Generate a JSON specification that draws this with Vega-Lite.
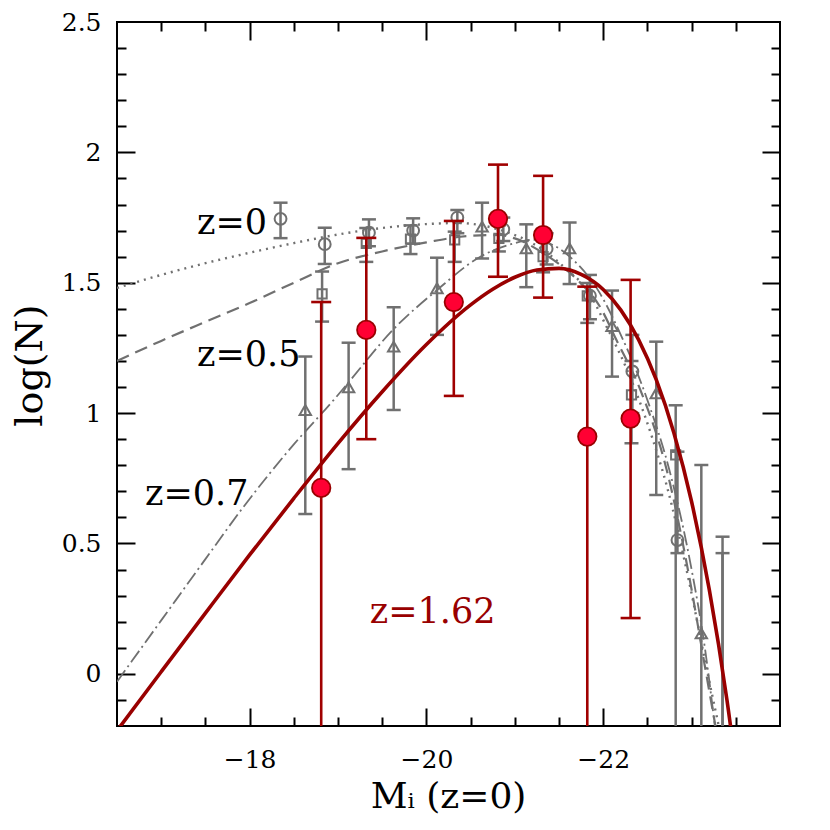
{
  "$schema": "https://vega.github.io/schema/vega-lite/v6.json",
  "width": 663,
  "height": 704,
  "autosize": {"type": "none"},
  "padding": {"left": 117, "top": 22, "right": 50, "bottom": 104},
  "background": "white",
  "config": {
    "view": {"stroke": "black", "strokeWidth": 2},
    "font": "DejaVu Serif",
    "axis": {"grid": false, "domain": false, "labelFont": "DejaVu Serif", "labelFontSize": 25, "labelColor": "black", "tickColor": "black", "tickWidth": 2, "titleFont": "DejaVu Serif", "titleFontSize": 36, "titleFontWeight": "normal", "titleColor": "black", "labelFlush": false, "labelOverlap": false}
  },
  "datasets": {
    "curves": [
      {"M": -16.5, "logN": 1.48, "z": "0"}, {"M": -17.0, "logN": 1.53, "z": "0"}, {"M": -17.5, "logN": 1.575, "z": "0"}, {"M": -18.0, "logN": 1.615, "z": "0"}, {"M": -18.5, "logN": 1.652, "z": "0"}, {"M": -19.0, "logN": 1.685, "z": "0"}, {"M": -19.5, "logN": 1.71, "z": "0"}, {"M": -20.0, "logN": 1.725, "z": "0"}, {"M": -20.35, "logN": 1.729, "z": "0"}, {"M": -20.83, "logN": 1.703, "z": "0"}, {"M": -21.32, "logN": 1.626, "z": "0"}, {"M": -21.59, "logN": 1.55, "z": "0"}, {"M": -21.82, "logN": 1.472, "z": "0"}, {"M": -22.04, "logN": 1.33, "z": "0"}, {"M": -22.27, "logN": 1.166, "z": "0"}, {"M": -22.56, "logN": 0.9, "z": "0"}, {"M": -22.72, "logN": 0.72, "z": "0"}, {"M": -22.98, "logN": 0.34, "z": "0"}, {"M": -23.17, "logN": 0.02, "z": "0"}, {"M": -23.32, "logN": -0.22, "z": "0"},
      {"M": -16.5, "logN": 1.2, "z": "0.5"}, {"M": -17.0, "logN": 1.277, "z": "0.5"}, {"M": -17.5, "logN": 1.35, "z": "0.5"}, {"M": -18.0, "logN": 1.422, "z": "0.5"}, {"M": -18.5, "logN": 1.5, "z": "0.5"}, {"M": -19.0, "logN": 1.575, "z": "0.5"}, {"M": -19.5, "logN": 1.62, "z": "0.5"}, {"M": -20.0, "logN": 1.655, "z": "0.5"}, {"M": -20.5, "logN": 1.68, "z": "0.5"}, {"M": -20.83, "logN": 1.683, "z": "0.5"}, {"M": -21.0, "logN": 1.67, "z": "0.5"}, {"M": -21.32, "logN": 1.614, "z": "0.5"}, {"M": -21.74, "logN": 1.5, "z": "0.5"}, {"M": -21.96, "logN": 1.41, "z": "0.5"}, {"M": -22.15, "logN": 1.28, "z": "0.5"}, {"M": -22.42, "logN": 1.089, "z": "0.5"}, {"M": -22.72, "logN": 0.78, "z": "0.5"}, {"M": -22.98, "logN": 0.36, "z": "0.5"}, {"M": -23.15, "logN": 0.03, "z": "0.5"}, {"M": -23.28, "logN": -0.22, "z": "0.5"},
      {"M": -16.5, "logN": -0.03, "z": "0.7"}, {"M": -17.0, "logN": 0.205, "z": "0.7"}, {"M": -17.5, "logN": 0.44, "z": "0.7"}, {"M": -17.93, "logN": 0.64, "z": "0.7"}, {"M": -18.5, "logN": 0.88, "z": "0.7"}, {"M": -18.95, "logN": 1.05, "z": "0.7"}, {"M": -19.1, "logN": 1.11, "z": "0.7"}, {"M": -19.62, "logN": 1.319, "z": "0.7"}, {"M": -20.12, "logN": 1.472, "z": "0.7"}, {"M": -20.61, "logN": 1.6, "z": "0.7"}, {"M": -20.98, "logN": 1.65, "z": "0.7"}, {"M": -21.2, "logN": 1.665, "z": "0.7"}, {"M": -21.36, "logN": 1.655, "z": "0.7"}, {"M": -21.66, "logN": 1.588, "z": "0.7"}, {"M": -21.96, "logN": 1.461, "z": "0.7"}, {"M": -22.19, "logN": 1.307, "z": "0.7"}, {"M": -22.5, "logN": 1.05, "z": "0.7"}, {"M": -22.75, "logN": 0.78, "z": "0.7"}, {"M": -23.0, "logN": 0.4, "z": "0.7"}, {"M": -23.15, "logN": 0.1, "z": "0.7"}, {"M": -23.27, "logN": -0.22, "z": "0.7"},
      {"M": -16.5, "logN": -0.218, "z": "1.62"}, {"M": -17.0, "logN": 0.008, "z": "1.62"}, {"M": -17.5, "logN": 0.233, "z": "1.62"}, {"M": -18.0, "logN": 0.456, "z": "1.62"}, {"M": -18.5, "logN": 0.673, "z": "1.62"}, {"M": -19.0, "logN": 0.884, "z": "1.62"}, {"M": -19.5, "logN": 1.082, "z": "1.62"}, {"M": -20.0, "logN": 1.263, "z": "1.62"}, {"M": -20.5, "logN": 1.415, "z": "1.62"}, {"M": -20.75, "logN": 1.475, "z": "1.62"}, {"M": -21.0, "logN": 1.521, "z": "1.62"}, {"M": -21.25, "logN": 1.549, "z": "1.62"}, {"M": -21.5, "logN": 1.555, "z": "1.62"}, {"M": -21.75, "logN": 1.532, "z": "1.62"}, {"M": -22.0, "logN": 1.474, "z": "1.62"}, {"M": -22.2, "logN": 1.395, "z": "1.62"}, {"M": -22.4, "logN": 1.282, "z": "1.62"}, {"M": -22.6, "logN": 1.128, "z": "1.62"}, {"M": -22.8, "logN": 0.924, "z": "1.62"}, {"M": -23.0, "logN": 0.66, "z": "1.62"}, {"M": -23.2, "logN": 0.323, "z": "1.62"}, {"M": -23.4, "logN": -0.1, "z": "1.62"}, {"M": -23.6, "logN": -0.627, "z": "1.62"}
    ],
    "points": [
      {"M": -18.35, "logN": 1.745, "lo": 1.671, "hi": 1.807, "z": "0"},
      {"M": -18.85, "logN": 1.648, "lo": 1.572, "hi": 1.711, "z": "0"},
      {"M": -19.35, "logN": 1.692, "lo": 1.64, "hi": 1.743, "z": "0"},
      {"M": -19.85, "logN": 1.7, "lo": 1.65, "hi": 1.747, "z": "0"},
      {"M": -20.35, "logN": 1.75, "lo": 1.69, "hi": 1.779, "z": "0"},
      {"M": -20.87, "logN": 1.705, "lo": 1.66, "hi": 1.75, "z": "0"},
      {"M": -21.36, "logN": 1.63, "lo": 1.57, "hi": 1.69, "z": "0"},
      {"M": -21.85, "logN": 1.45, "lo": 1.36, "hi": 1.53, "z": "0"},
      {"M": -22.33, "logN": 1.16, "lo": 1.0, "hi": 1.3, "z": "0"},
      {"M": -22.84, "logN": 0.513, "lo": 0.463, "hi": 0.852, "z": "0"},
      {"M": -23.35, "logN": -0.5, "lo": -1, "hi": 0.526, "z": "0"},
      {"M": -18.82, "logN": 1.457, "lo": 1.351, "hi": 1.543, "z": "0.5"},
      {"M": -19.32, "logN": 1.651, "lo": 1.58, "hi": 1.71, "z": "0.5"},
      {"M": -19.82, "logN": 1.667, "lo": 1.61, "hi": 1.72, "z": "0.5"},
      {"M": -20.32, "logN": 1.664, "lo": 1.58, "hi": 1.696, "z": "0.5"},
      {"M": -20.82, "logN": 1.67, "lo": 1.62, "hi": 1.72, "z": "0.5"},
      {"M": -21.32, "logN": 1.6, "lo": 1.54, "hi": 1.66, "z": "0.5"},
      {"M": -21.82, "logN": 1.45, "lo": 1.346, "hi": 1.499, "z": "0.5"},
      {"M": -22.32, "logN": 1.07, "lo": 0.884, "hi": 1.2, "z": "0.5"},
      {"M": -22.82, "logN": 0.84, "lo": -1, "hi": 1.03, "z": "0.5"},
      {"M": -23.35, "logN": -0.5, "lo": -1, "hi": 0.463, "z": "0.5"},
      {"M": -18.63, "logN": 1.012, "lo": 0.613, "hi": 1.217, "z": "0.7"},
      {"M": -19.12, "logN": 1.099, "lo": 0.785, "hi": 1.27, "z": "0.7"},
      {"M": -19.63, "logN": 1.255, "lo": 1.012, "hi": 1.406, "z": "0.7"},
      {"M": -20.12, "logN": 1.479, "lo": 1.3, "hi": 1.596, "z": "0.7"},
      {"M": -20.63, "logN": 1.715, "lo": 1.593, "hi": 1.807, "z": "0.7"},
      {"M": -21.13, "logN": 1.632, "lo": 1.483, "hi": 1.724, "z": "0.7"},
      {"M": -21.62, "logN": 1.632, "lo": 1.495, "hi": 1.731, "z": "0.7"},
      {"M": -22.1, "logN": 1.334, "lo": 1.14, "hi": 1.47, "z": "0.7"},
      {"M": -22.6, "logN": 1.076, "lo": 0.686, "hi": 1.274, "z": "0.7"},
      {"M": -23.11, "logN": 0.155, "lo": -1, "hi": 0.801, "z": "0.7"},
      {"M": -18.81, "logN": 0.713, "lo": -1, "hi": 1.426, "z": "1.62"},
      {"M": -19.32, "logN": 1.319, "lo": 0.9, "hi": 1.672, "z": "1.62"},
      {"M": -20.31, "logN": 1.426, "lo": 1.066, "hi": 1.737, "z": "1.62"},
      {"M": -20.81, "logN": 1.745, "lo": 1.523, "hi": 1.953, "z": "1.62"},
      {"M": -21.32, "logN": 1.683, "lo": 1.443, "hi": 1.91, "z": "1.62"},
      {"M": -21.82, "logN": 0.91, "lo": -1, "hi": 1.485, "z": "1.62"},
      {"M": -22.31, "logN": 0.979, "lo": 0.214, "hi": 1.511, "z": "1.62"}
    ],
    "labels": [
      {"M": -17.405, "logN": 1.731, "text": "z=0", "z": "0"},
      {"M": -17.405, "logN": 1.223, "text": "z=0.5", "z": "0.5"},
      {"M": -16.817, "logN": 0.69, "text": "z=0.7", "z": "0.7"},
      {"M": -19.36, "logN": 0.237, "text": "z=1.62", "z": "1.62"}
    ]
  },
  "resolve": {"axis": {"x": "independent", "y": "independent"}},
  "layer": [
    {
      "data": {"name": "curves"},
      "transform": [{"filter": "datum.z === '0'"}],
      "mark": {"type": "line", "clip": true, "color": "#707070", "strokeWidth": 2.4, "strokeDash": [2, 5], "interpolate": "monotone"},
      "encoding": {
        "x": {"field": "M", "type": "quantitative", "scale": {"domain": [-24, -16.5], "reverse": true, "nice": false, "zero": false},
          "axis": {"orient": "bottom", "values": [-18, -20, -22], "format": "d", "ticks": false, "labelPadding": 21, "title": "Mᵢ  (z=0)", "titleX": 331, "titleY": 70, "titleAlign": "center", "titleBaseline": "middle"}},
        "y": {"field": "logN", "type": "quantitative", "scale": {"domain": [-0.2, 2.5], "nice": false, "zero": false},
          "axis": {"orient": "left", "values": [0, 0.5, 1, 1.5, 2, 2.5], "format": "~g", "ticks": false, "labelPadding": 16, "title": "log(N)", "titleX": -87, "titleY": 343, "titleAngle": -90, "titleAlign": "center", "titleBaseline": "middle", "titleFontSize": 38}}
      }
    },
    {
      "data": {"name": "curves"},
      "transform": [{"filter": "datum.z === '0.5'"}],
      "mark": {"type": "line", "clip": true, "color": "#707070", "strokeWidth": 2.2, "strokeDash": [13, 7], "interpolate": "monotone"},
      "encoding": {
        "x": {"field": "M", "type": "quantitative", "scale": {"domain": [-24, -16.5], "reverse": true, "nice": false, "zero": false},
          "axis": {"orient": "bottom", "values": [-17, -17.5, -18, -18.5, -19, -19.5, -20, -20.5, -21, -21.5, -22, -22.5, -23, -23.5], "labels": false, "title": null, "ticks": true,
            "tickSize": {"condition": {"test": "abs(datum.value % 2) < 0.01", "value": -18}, "value": -9}}},
        "y": {"field": "logN", "type": "quantitative", "scale": {"domain": [-0.2, 2.5], "nice": false, "zero": false},
          "axis": {"orient": "left", "values": [-0.1, 0, 0.1, 0.2, 0.3, 0.4, 0.5, 0.6, 0.7, 0.8, 0.9, 1, 1.1, 1.2, 1.3, 1.4, 1.5, 1.6, 1.7, 1.8, 1.9, 2, 2.1, 2.2, 2.3, 2.4], "labels": false, "title": null, "ticks": true,
            "tickSize": {"condition": {"test": "abs(datum.value * 2 - round(datum.value * 2)) < 0.01", "value": -18}, "value": -9}}}
      }
    },
    {
      "data": {"name": "curves"},
      "transform": [{"filter": "datum.z === '0.7'"}],
      "mark": {"type": "line", "clip": true, "color": "#707070", "strokeWidth": 1.8, "strokeDash": [14, 4, 2, 4], "interpolate": "monotone"},
      "encoding": {
        "x": {"field": "M", "type": "quantitative", "scale": {"domain": [-24, -16.5], "reverse": true, "nice": false, "zero": false},
          "axis": {"orient": "top", "values": [-17, -17.5, -18, -18.5, -19, -19.5, -20, -20.5, -21, -21.5, -22, -22.5, -23, -23.5], "labels": false, "title": null, "ticks": true,
            "tickSize": {"condition": {"test": "abs(datum.value % 2) < 0.01", "value": -18}, "value": -9}}},
        "y": {"field": "logN", "type": "quantitative", "scale": {"domain": [-0.2, 2.5], "nice": false, "zero": false},
          "axis": {"orient": "right", "values": [-0.1, 0, 0.1, 0.2, 0.3, 0.4, 0.5, 0.6, 0.7, 0.8, 0.9, 1, 1.1, 1.2, 1.3, 1.4, 1.5, 1.6, 1.7, 1.8, 1.9, 2, 2.1, 2.2, 2.3, 2.4], "labels": false, "title": null, "ticks": true,
            "tickSize": {"condition": {"test": "abs(datum.value * 2 - round(datum.value * 2)) < 0.01", "value": -18}, "value": -9}}}
      }
    },
    {
      "data": {"name": "points"},
      "transform": [{"filter": "datum.z !== '1.62'"}],
      "mark": {"type": "rule", "clip": true, "color": "#707070", "strokeWidth": 2.5},
      "encoding": {
        "x": {"field": "M", "type": "quantitative", "scale": {"domain": [-24, -16.5], "reverse": true, "nice": false, "zero": false}, "axis": null},
        "y": {"field": "lo", "type": "quantitative", "scale": {"domain": [-0.2, 2.5], "nice": false, "zero": false}, "axis": null},
        "y2": {"field": "hi"}
      }
    },
    {
      "data": {"name": "points"},
      "transform": [{"filter": "datum.z !== '1.62'"}],
      "mark": {"type": "tick", "orient": "horizontal", "clip": true, "color": "#707070", "size": 14, "thickness": 2.5, "opacity": 1},
      "encoding": {
        "x": {"field": "M", "type": "quantitative", "scale": {"domain": [-24, -16.5], "reverse": true, "nice": false, "zero": false}, "axis": null},
        "y": {"field": "hi", "type": "quantitative", "scale": {"domain": [-0.2, 2.5], "nice": false, "zero": false}, "axis": null}
      }
    },
    {
      "data": {"name": "points"},
      "transform": [{"filter": "datum.z !== '1.62'"}],
      "mark": {"type": "tick", "orient": "horizontal", "clip": true, "color": "#707070", "size": 14, "thickness": 2.5, "opacity": 1},
      "encoding": {
        "x": {"field": "M", "type": "quantitative", "scale": {"domain": [-24, -16.5], "reverse": true, "nice": false, "zero": false}, "axis": null},
        "y": {"field": "lo", "type": "quantitative", "scale": {"domain": [-0.2, 2.5], "nice": false, "zero": false}, "axis": null}
      }
    },
    {
      "data": {"name": "points"},
      "transform": [{"filter": "datum.z === '0'"}],
      "mark": {"type": "point", "shape": "circle", "clip": true, "size": 140, "filled": false, "color": "#707070", "strokeWidth": 2, "opacity": 1},
      "encoding": {
        "x": {"field": "M", "type": "quantitative", "scale": {"domain": [-24, -16.5], "reverse": true, "nice": false, "zero": false}, "axis": null},
        "y": {"field": "logN", "type": "quantitative", "scale": {"domain": [-0.2, 2.5], "nice": false, "zero": false}, "axis": null}
      }
    },
    {
      "data": {"name": "points"},
      "transform": [{"filter": "datum.z === '0.5'"}],
      "mark": {"type": "point", "shape": "square", "clip": true, "size": 85, "filled": false, "color": "#707070", "strokeWidth": 2, "opacity": 1},
      "encoding": {
        "x": {"field": "M", "type": "quantitative", "scale": {"domain": [-24, -16.5], "reverse": true, "nice": false, "zero": false}, "axis": null},
        "y": {"field": "logN", "type": "quantitative", "scale": {"domain": [-0.2, 2.5], "nice": false, "zero": false}, "axis": null}
      }
    },
    {
      "data": {"name": "points"},
      "transform": [{"filter": "datum.z === '0.7'"}],
      "mark": {"type": "point", "shape": "triangle-up", "clip": true, "size": 130, "filled": false, "color": "#707070", "strokeWidth": 2, "opacity": 1},
      "encoding": {
        "x": {"field": "M", "type": "quantitative", "scale": {"domain": [-24, -16.5], "reverse": true, "nice": false, "zero": false}, "axis": null},
        "y": {"field": "logN", "type": "quantitative", "scale": {"domain": [-0.2, 2.5], "nice": false, "zero": false}, "axis": null}
      }
    },
    {
      "data": {"name": "points"},
      "transform": [{"filter": "datum.z === '1.62'"}],
      "mark": {"type": "rule", "clip": true, "color": "#A00000", "strokeWidth": 2.6},
      "encoding": {
        "x": {"field": "M", "type": "quantitative", "scale": {"domain": [-24, -16.5], "reverse": true, "nice": false, "zero": false}, "axis": null},
        "y": {"field": "lo", "type": "quantitative", "scale": {"domain": [-0.2, 2.5], "nice": false, "zero": false}, "axis": null},
        "y2": {"field": "hi"}
      }
    },
    {
      "data": {"name": "points"},
      "transform": [{"filter": "datum.z === '1.62'"}],
      "mark": {"type": "tick", "orient": "horizontal", "clip": true, "color": "#A00000", "size": 20, "thickness": 2.6, "opacity": 1},
      "encoding": {
        "x": {"field": "M", "type": "quantitative", "scale": {"domain": [-24, -16.5], "reverse": true, "nice": false, "zero": false}, "axis": null},
        "y": {"field": "hi", "type": "quantitative", "scale": {"domain": [-0.2, 2.5], "nice": false, "zero": false}, "axis": null}
      }
    },
    {
      "data": {"name": "points"},
      "transform": [{"filter": "datum.z === '1.62'"}],
      "mark": {"type": "tick", "orient": "horizontal", "clip": true, "color": "#A00000", "size": 20, "thickness": 2.6, "opacity": 1},
      "encoding": {
        "x": {"field": "M", "type": "quantitative", "scale": {"domain": [-24, -16.5], "reverse": true, "nice": false, "zero": false}, "axis": null},
        "y": {"field": "lo", "type": "quantitative", "scale": {"domain": [-0.2, 2.5], "nice": false, "zero": false}, "axis": null}
      }
    },
    {
      "data": {"name": "curves"},
      "transform": [{"filter": "datum.z === '1.62'"}],
      "mark": {"type": "line", "clip": true, "color": "#990000", "strokeWidth": 3.6, "interpolate": "monotone"},
      "encoding": {
        "x": {"field": "M", "type": "quantitative", "scale": {"domain": [-24, -16.5], "reverse": true, "nice": false, "zero": false}, "axis": null},
        "y": {"field": "logN", "type": "quantitative", "scale": {"domain": [-0.2, 2.5], "nice": false, "zero": false}, "axis": null}
      }
    },
    {
      "data": {"name": "points"},
      "transform": [{"filter": "datum.z === '1.62'"}],
      "mark": {"type": "point", "shape": "circle", "clip": true, "size": 340, "filled": true, "fill": "#FF0033", "stroke": "#990000", "strokeWidth": 1.8, "opacity": 1},
      "encoding": {
        "x": {"field": "M", "type": "quantitative", "scale": {"domain": [-24, -16.5], "reverse": true, "nice": false, "zero": false}, "axis": null},
        "y": {"field": "logN", "type": "quantitative", "scale": {"domain": [-0.2, 2.5], "nice": false, "zero": false}, "axis": null}
      }
    },
    {
      "data": {"name": "labels"},
      "transform": [{"filter": "datum.z !== '1.62'"}],
      "mark": {"type": "text", "align": "left", "baseline": "middle", "font": "DejaVu Serif", "fontSize": 35, "color": "black"},
      "encoding": {
        "x": {"field": "M", "type": "quantitative", "scale": {"domain": [-24, -16.5], "reverse": true, "nice": false, "zero": false}, "axis": null},
        "y": {"field": "logN", "type": "quantitative", "scale": {"domain": [-0.2, 2.5], "nice": false, "zero": false}, "axis": null},
        "text": {"field": "text"}
      }
    },
    {
      "data": {"name": "labels"},
      "transform": [{"filter": "datum.z === '1.62'"}],
      "mark": {"type": "text", "align": "left", "baseline": "middle", "font": "DejaVu Serif", "fontSize": 35, "color": "#990000"},
      "encoding": {
        "x": {"field": "M", "type": "quantitative", "scale": {"domain": [-24, -16.5], "reverse": true, "nice": false, "zero": false}, "axis": null},
        "y": {"field": "logN", "type": "quantitative", "scale": {"domain": [-0.2, 2.5], "nice": false, "zero": false}, "axis": null},
        "text": {"field": "text"}
      }
    }
  ]
}
